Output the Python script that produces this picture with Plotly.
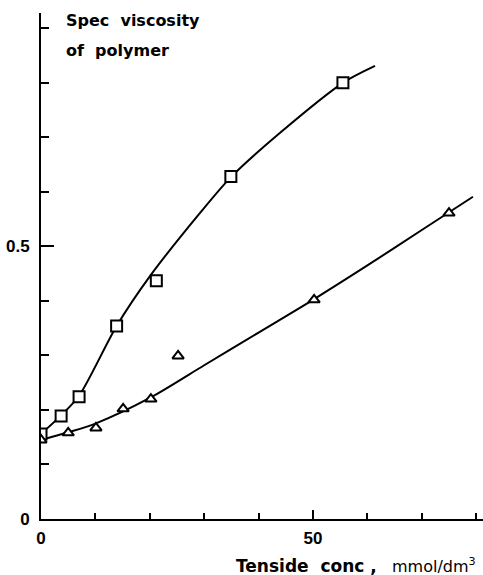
import plotly.graph_objects as go

# Square series (measured points)
sq_x = [0, 3.7, 7.0, 13.9, 21.2, 34.9, 55.5]
sq_y = [0.156, 0.189, 0.224, 0.354, 0.437, 0.628, 0.800]
# Triangle series (measured points)
tr_x = [0, 5.0, 10.1, 15.1, 20.2, 25.2, 50.2, 75.0]
tr_y = [0.145, 0.158, 0.167, 0.202, 0.220, 0.299, 0.402, 0.561]

# Drawn curves
sq_curve_x = [0, 3.7, 7.0, 13.9, 20.0, 29.2, 35.0, 43.9, 55.5, 61.4]
sq_curve_y = [0.156, 0.190, 0.226, 0.354, 0.445, 0.561, 0.628, 0.708, 0.800, 0.831]
tr_curve_x = [0, 5.0, 10.0, 20.0, 30.0, 40.0, 50.0, 60.0, 70.0, 79.4]
tr_curve_y = [0.145, 0.159, 0.175, 0.222, 0.282, 0.342, 0.402, 0.465, 0.530, 0.591]

x_ticks = [0, 50]
y_ticks = [0, 0.5]
y_tick_text = ["0", "0.5"]

FONT = "DejaVu Sans"
TFONT = "Liberation Sans"

fig = go.Figure()
fig.add_trace(go.Scatter(x=sq_curve_x, y=sq_curve_y, mode="lines",
                         line=dict(color="black", width=2, shape="spline", smoothing=0.8),
                         hoverinfo="skip", showlegend=False))
fig.add_trace(go.Scatter(x=tr_curve_x, y=tr_curve_y, mode="lines",
                         line=dict(color="black", width=2, shape="spline", smoothing=0.8),
                         hoverinfo="skip", showlegend=False))
fig.add_trace(go.Scatter(x=sq_x, y=sq_y, mode="markers",
                         marker=dict(symbol="square", size=11, color="white",
                                     line=dict(color="black", width=2)),
                         showlegend=False))
fig.add_trace(go.Scatter(x=tr_x, y=tr_y, mode="markers",
                         marker=dict(symbol="triangle-up", size=10, color="white",
                                     line=dict(color="black", width=2)),
                         showlegend=False))

fig.update_layout(
    width=483, height=575,
    margin=dict(l=41, r=0, t=13, b=56),
    paper_bgcolor="white", plot_bgcolor="white",
    font=dict(family=FONT, color="black", size=16),
    xaxis=dict(range=[0, 81.25], tickvals=x_ticks, ticktext=[str(v) for v in x_ticks],
               ticks="inside", ticklen=9, tickwidth=2, tickcolor="black",
               minor=dict(dtick=10, tick0=0, ticks="inside", ticklen=6, tickwidth=2, tickcolor="black"),
               showline=True, linecolor="black", linewidth=2, showgrid=False, zeroline=False,
               ticklabelstandoff=3,
               tickfont=dict(family=TFONT, size=17, weight="bold")),
    yaxis=dict(range=[0, 0.928], tickvals=y_ticks, ticktext=y_tick_text,
               ticks="inside", ticklen=13, tickwidth=2, tickcolor="black",
               minor=dict(dtick=0.1, tick0=0, ticks="inside", ticklen=8, tickwidth=2, tickcolor="black"),
               showline=True, linecolor="black", linewidth=2, showgrid=False, zeroline=False,
               ticklabelstandoff=6,
               tickfont=dict(family=TFONT, size=17, weight="bold")),
)

fig.add_annotation(text="<b>Spec  viscosity</b>", xref="paper", yref="paper", x=0, y=1,
                   xanchor="left", yanchor="middle", xshift=23, yshift=-7,
                   showarrow=False, font=dict(family=FONT, size=16))
fig.add_annotation(text="<b>of  polymer</b>", xref="paper", yref="paper", x=0, y=1,
                   xanchor="left", yanchor="middle", xshift=23, yshift=-37,
                   showarrow=False, font=dict(family=FONT, size=16))
fig.add_annotation(text="<b><span style='font-size:17px'>Tenside  conc ,</span></b>   mmol/dm<sup>3</sup>",
                   xref="paper", yref="paper",
                   x=1, y=0, xanchor="right", yanchor="middle", xshift=-5, yshift=-46,
                   showarrow=False, font=dict(family=FONT, size=16))

fig.write_html("out.html")
